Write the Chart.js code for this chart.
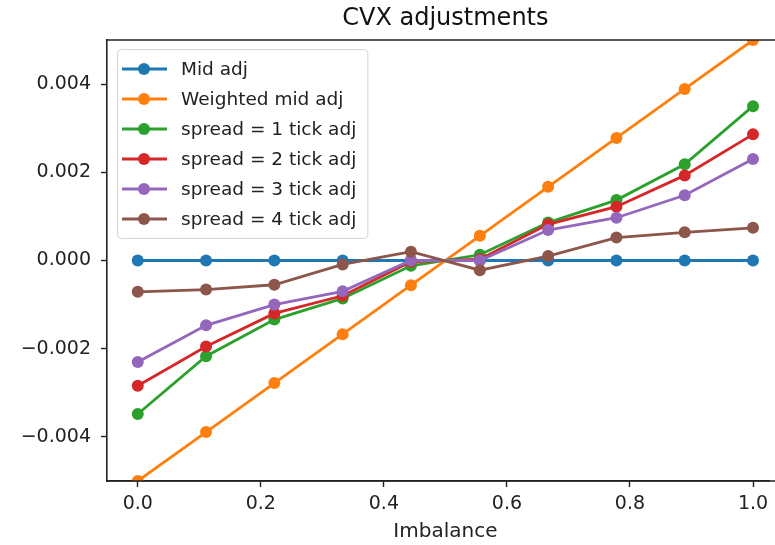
<!DOCTYPE html>
<html>
<head>
<meta charset="utf-8">
<title>CVX adjustments</title>
<script src="https://cdn.jsdelivr.net/npm/chart.js@4"></script>
<style>
  html, body { margin: 0; padding: 0; background: #fff; }
  canvas { display: block; }
</style>
</head>
<body>
<canvas id="cvx-chart" width="775" height="545"></canvas>
<script>
// Данные графика
const imbalance = [0.0, 0.111, 0.222, 0.333, 0.444, 0.556, 0.667, 0.778, 0.889, 1.0];

const midAdj = [0, 0, 0, 0, 0, 0, 0, 0, 0, 0];
const weightedMidAdj = [-0.005, -0.00389, -0.00278, -0.00167, -0.00056, 0.00056, 0.00167, 0.00278, 0.00389, 0.005];
const spread1Adj = [-0.00348, -0.00217, -0.00134, -0.00086, -0.00012, 0.00013, 0.00086, 0.00137, 0.00218, 0.0035];
const spread2Adj = [-0.00284, -0.00195, -0.0012, -0.0008, -0.00003, 0.00003, 0.00082, 0.00122, 0.00193, 0.00286];
const spread3Adj = [-0.0023, -0.00147, -0.001, -0.0007, 0.0, 0.0, 0.00069, 0.00097, 0.00148, 0.0023];
const spread4Adj = [-0.00071, -0.00066, -0.00055, -0.00009, 0.0002, -0.00022, 0.0001, 0.00052, 0.00064, 0.00074];

const seriesLabels = ['Mid adj', 'Weighted mid adj', 'spread = 1 tick adj', 'spread = 2 tick adj', 'spread = 3 tick adj', 'spread = 4 tick adj'];
const seriesValues = [midAdj, weightedMidAdj, spread1Adj, spread2Adj, spread3Adj, spread4Adj];

const xTicks = [0.0, 0.2, 0.4, 0.6, 0.8, 1.0];
const yTicks = [-0.004, -0.002, 0.0, 0.002, 0.004];

const TITLE = 'CVX adjustments';
const X_LABEL = 'Imbalance';

// Цвета matplotlib tab10
const COLORS = ['#1f77b4', '#ff7f0e', '#2ca02c', '#d62728', '#9467bd', '#8c564b'];
const FONT = '"DejaVu Sans", "Liberation Sans", sans-serif';
const X_MIN = -0.05, X_MAX_FULL = 1.05; // полный диапазон осей matplotlib (правый край обрезан)

const datasets = seriesValues.map((vals, i) => ({
    label: seriesLabels[i],
    data: vals.map((v, j) => ({ x: imbalance[j], y: v })),
    borderColor: COLORS[i],
    backgroundColor: COLORS[i],
    borderWidth: 2.8,
    pointRadius: 6,
    pointBorderWidth: 0,
    pointHoverRadius: 6,
    tension: 0,
    clip: 0,
    order: seriesValues.length - i // последний ряд рисуется сверху, как в matplotlib
}));

// Легенда в стиле matplotlib
const legendBox = {
    id: 'legendBox',
    afterDatasetsDraw(chart) {
        const { ctx, chartArea } = chart;
        const sets = chart.data.datasets;
        ctx.save();
        ctx.font = '18.5px ' + FONT;
        const textW = Math.max(...sets.map(d => ctx.measureText(d.label).width));
        const x0 = chartArea.left + 10;
        const y0 = chartArea.top + 9;
        const w = 64 + textW + 11;
        const h = 189;

        ctx.beginPath();
        ctx.roundRect(x0 + 0.5, y0 + 0.5, w, h, 4);
        ctx.fillStyle = 'rgba(255,255,255,0.8)';
        ctx.fill();
        ctx.strokeStyle = '#d4d4d4';
        ctx.lineWidth = 1;
        ctx.stroke();

        sets.forEach((d, i) => {
            const cy = y0 + 20 + i * 30;
            ctx.strokeStyle = d.borderColor;
            ctx.lineWidth = 2.8;
            ctx.beginPath();
            ctx.moveTo(x0 + 5, cy);
            ctx.lineTo(x0 + 50, cy);
            ctx.stroke();
            ctx.fillStyle = d.borderColor;
            ctx.beginPath();
            ctx.arc(x0 + 27, cy, 6, 0, Math.PI * 2);
            ctx.fill();
            ctx.fillStyle = '#222';
            ctx.textAlign = 'left';
            ctx.textBaseline = 'middle';
            ctx.fillText(d.label, x0 + 64, cy + 1);
        });
        ctx.restore();
    }
};

// Рамки, заголовок и подпись оси X (центр по полной оси, как в matplotlib)
const frameAndTitles = {
    id: 'frameAndTitles',
    afterDraw(chart) {
        const { ctx, chartArea } = chart;
        const xs = chart.scales.x;
        const cx = xs.getPixelForValue((X_MIN + X_MAX_FULL) / 2);
        ctx.save();
        ctx.strokeStyle = '#222';
        ctx.lineWidth = 1.6;
        ctx.beginPath();
        ctx.moveTo(chartArea.left, chartArea.top);
        ctx.lineTo(chart.width, chartArea.top);
        ctx.moveTo(chartArea.left, chartArea.bottom);
        ctx.lineTo(chart.width, chartArea.bottom);
        ctx.stroke();

        ctx.textAlign = 'center';
        ctx.textBaseline = 'middle';
        ctx.fillStyle = '#111';
        ctx.font = '24px ' + FONT;
        ctx.fillText(TITLE, cx, 19);
        ctx.fillStyle = '#222';
        ctx.font = '20px ' + FONT;
        ctx.fillText(X_LABEL, cx, 532);
        ctx.restore();
    }
};

const fmtY = v => (v < 0 ? '\u2212' : '') + Math.abs(v).toFixed(3);

new Chart(document.getElementById('cvx-chart'), {
    type: 'line',
    data: { datasets },
    plugins: [legendBox, frameAndTitles],
    options: {
        responsive: false,
        animation: false,
        events: [],
        layout: { padding: { top: 40, left: 0, right: 0, bottom: 0 } },
        plugins: {
            legend: { display: false },
            tooltip: { enabled: false },
            title: { display: false }
        },
        scales: {
            x: {
                type: 'linear',
                min: X_MIN,
                max: 1.026,
                afterBuildTicks: scale => { scale.ticks = xTicks.map(v => ({ value: v })); },
                afterFit: scale => { scale.height = 64; },
                border: { display: true, color: '#222', width: 1.6 },
                grid: { drawOnChartArea: false, drawTicks: true, tickLength: 6, tickColor: '#222', tickWidth: 1.4 },
                ticks: {
                    color: '#222',
                    padding: 6,
                    maxRotation: 0,
                    font: { family: FONT, size: 19 },
                    callback: v => v.toFixed(1)
                }
            },
            y: {
                type: 'linear',
                min: -0.005,
                max: 0.005,
                afterBuildTicks: scale => { scale.ticks = yTicks.map(v => ({ value: v })); },
                afterFit: scale => { scale.width = 107; },
                border: { display: true, color: '#222', width: 1.6 },
                grid: { drawOnChartArea: false, drawTicks: true, tickLength: 6, tickColor: '#222', tickWidth: 1.4 },
                ticks: {
                    color: '#222',
                    padding: 10,
                    font: { family: FONT, size: 19 },
                    callback: v => fmtY(v)
                }
            }
        }
    }
});
</script>
</body>
</html>
